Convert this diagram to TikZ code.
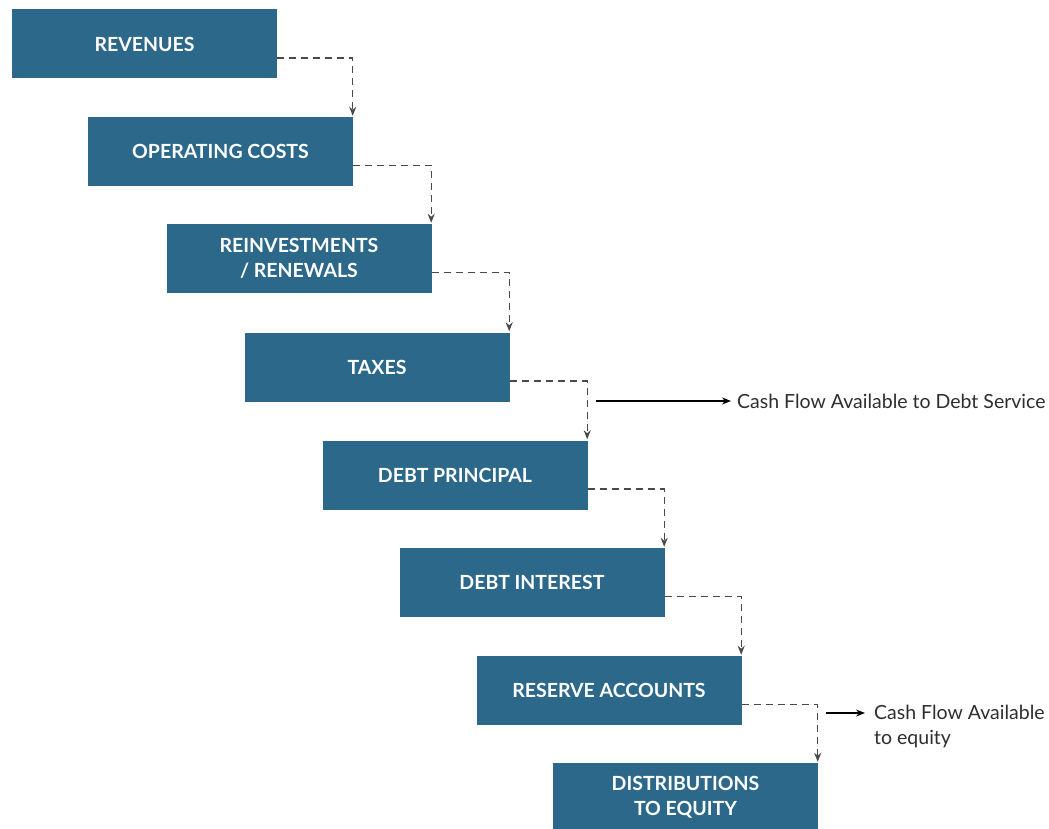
\documentclass[tikz,border=0pt]{standalone}
\usepackage{fontspec}
\setmainfont{Lato}
\usetikzlibrary{arrows.meta,calc}
\definecolor{boxblue}{HTML}{2C6889}
\definecolor{linegray}{HTML}{4A4A4A}
\definecolor{labelgray}{HTML}{2E2E2E}
\tikzset{
  stage/.style={fill=boxblue, draw=none, minimum width=265pt, minimum height=69pt,
    inner sep=0pt, text=white, align=center,
    font=\fontsize{19.5}{25}\selectfont\bfseries},
  flow/.style={linegray, line width=1.3pt, dash pattern=on 7pt off 5pt,
    -{Stealth[length=9pt,width=7pt]}},
  side/.style={black, line width=1.1pt, -{Stealth[length=9pt,width=7pt]}},
  note/.style={text=labelgray, anchor=west, inner sep=0pt, align=left,
    font=\fontsize{19.5}{25}\selectfont}
}
\begin{document}
\begin{tikzpicture}[x=1pt,y=-1pt]
  \useasboundingbox (0,0) rectangle (1049,829);
  % cash-flow waterfall stages
  \node[stage] (b1) at (144.5,44)   {REVENUES};
  \node[stage] (b2) at (220.5,151.5) {OPERATING COSTS};
  \node[stage] (b3) at (299,258.5)  {REINVESTMENTS\\/ RENEWALS};
  \node[stage] (b4) at (377,367)    {TAXES};
  \node[stage] (b5) at (455,475)    {DEBT PRINCIPAL};
  \node[stage] (b6) at (532,582.5)  {DEBT INTEREST};
  \node[stage] (b7) at (609,690.5)  {RESERVE ACCOUNTS};
  \node[stage] (b8) at (685.5,797.5) {DISTRIBUTIONS\\TO EQUITY};
  % dashed links between consecutive stages
  \foreach \a/\b in {b1/b2,b2/b3,b3/b4,b4/b5,b5/b6,b6/b7,b7/b8}
    \draw[flow] ([yshift=-14pt]\a.east) -| ([xshift=-0.5pt,yshift=1pt]\b.north east);
  % side outputs
  \node[note] (cfads) at (737,401) {Cash Flow Available to Debt Service};
  \coordinate (s1) at (596,401);
  \draw[side] (s1) -- ([xshift=-6pt]cfads.west);
  \node[note, anchor=north west] (cfe) at (874,705) {Cash Flow Available\\to equity};
  \coordinate (s2) at (826,713);
  \draw[side] (s2) -- ([xshift=-9pt]s2 -| cfe.west);
\end{tikzpicture}
\end{document}
